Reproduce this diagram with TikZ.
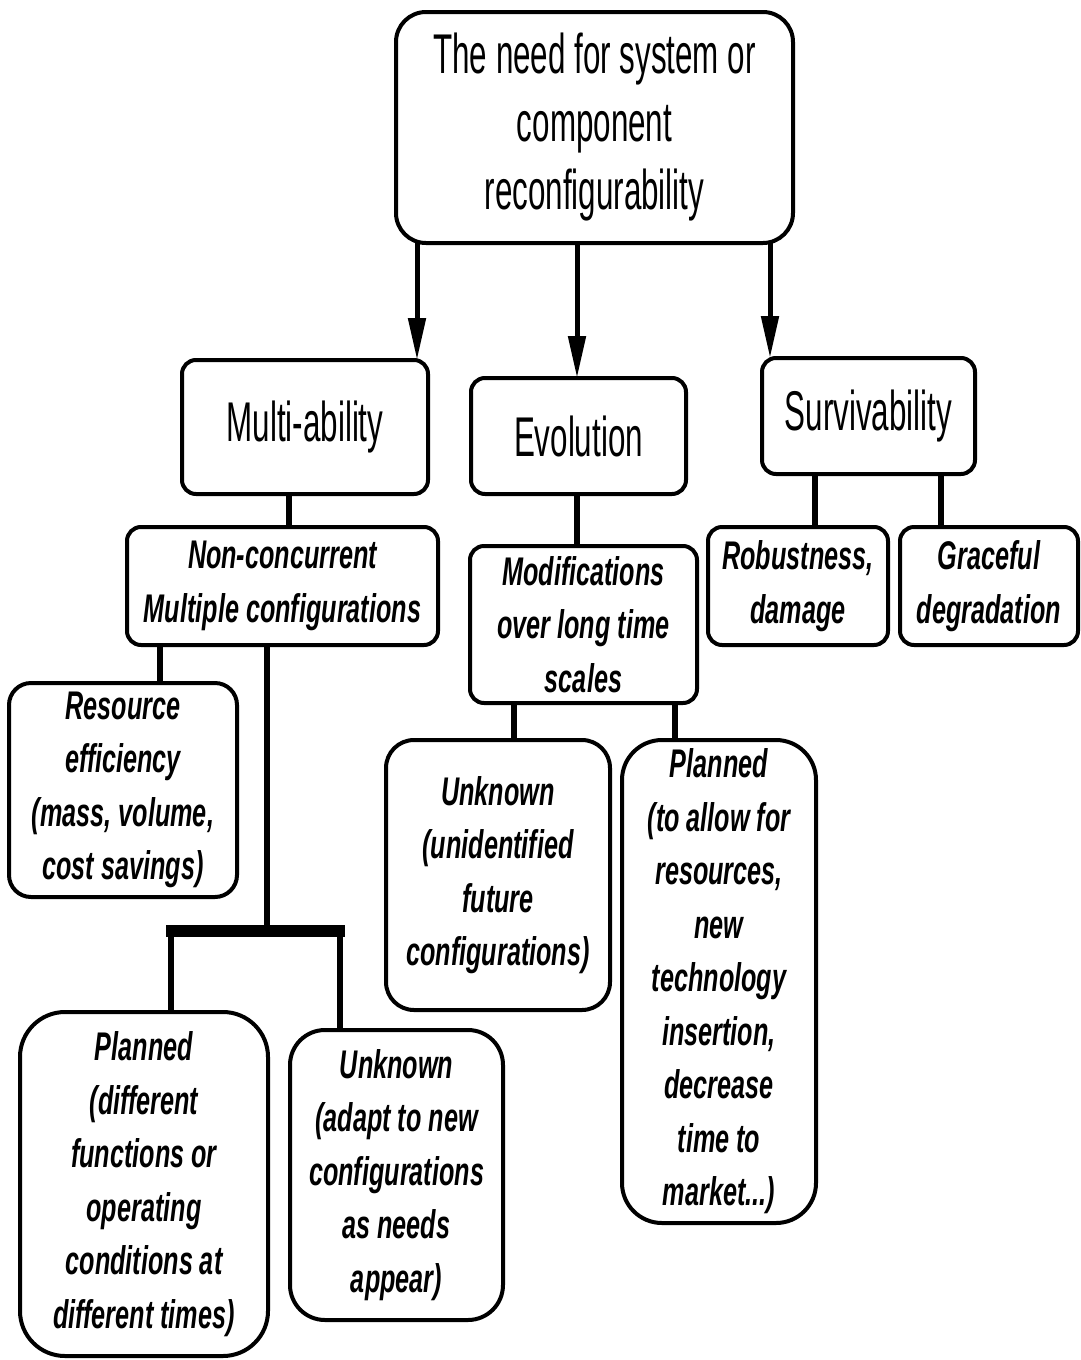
\documentclass[tikz,border=0pt]{standalone}
\usepackage{fontspec}
\setmainfont{Liberation Sans}
\newfontfamily\upfont[FakeStretch=0.56]{Liberation Sans}
\newfontfamily\lowfont[FakeStretch=0.63]{Liberation Sans}
\usetikzlibrary{arrows.meta}
\begin{document}
\begin{tikzpicture}[x=1pt,y=-1pt,
  box/.style={draw, line width=4pt, align=center, inner sep=0pt, outer sep=0pt},
  upbox/.style={box, rounded corners=#1, font=\upfont\fontsize{56}{68}\selectfont},
  upbox/.default=14pt,
  lowbox/.style={box, rounded corners=#1, font=\lowfont\bfseries\itshape\fontsize{40}{53.5}\selectfont},
  lowbox/.default=14pt,
  conn/.style={line width=6pt},
  arr/.style={line width=5pt, -{Triangle[length=42pt,width=17pt]}},
  barline/.style={line width=12pt}]
\useasboundingbox (0,0) rectangle (1080,1360);

% boxes
\node[upbox=30pt, minimum width=397pt, minimum height=231pt] (top) at (594.5,127.5)
  {The need for system or\\component\\reconfigurability};
\node[upbox, minimum width=246pt, minimum height=134pt] (multi) at (305,427) {Multi-ability};
\node[upbox, minimum width=215pt, minimum height=116pt] (evol) at (578.5,436) {Evolution};
\node[upbox, minimum width=213pt, minimum height=116pt] (surv) at (868.5,416) {Survivability};

\node[lowbox, minimum width=311pt, minimum height=118pt] (nonc) at (282.5,586)
  {Non-concurrent\\Multiple configurations};
\node[lowbox, minimum width=227pt, minimum height=157pt] (modif) at (583.5,624.5)
  {Modifications\\over long time\\scales};
\node[lowbox, minimum width=180pt, minimum height=118pt] (robust) at (798,586)
  {Robustness,\\damage};
\node[lowbox, minimum width=178pt, minimum height=118pt] (grace) at (989,586)
  {Graceful\\degradation};

\node[lowbox=22pt, minimum width=228pt, minimum height=214pt] (resource) at (123,790)
  {Resource\\efficiency\\(mass, volume,\\cost savings)};
\node[lowbox=28pt, minimum width=224pt, minimum height=270pt] (unkA) at (498,875)
  {Unknown\\(unidentified\\future\\configurations)};
\node[lowbox=40pt, minimum width=194pt, minimum height=483pt] (planA) at (719,981.5)
  {Planned\\(to allow for\\resources,\\new\\technology\\insertion,\\decrease\\time to\\market...)};
\node[lowbox=45pt, minimum width=248pt, minimum height=344pt] (planB) at (144,1184)
  {Planned\\(different\\functions or\\operating\\conditions at\\different times)};
\node[lowbox=35pt, minimum width=213pt, minimum height=290pt] (unkB) at (396.5,1175)
  {Unknown\\(adapt to new\\configurations\\as needs\\appear)};

% reference x positions
\coordinate (xa) at (417,0);
\coordinate (xb) at (577,0);
\coordinate (xc) at (770,0);
\coordinate (xm) at (289,0);
\coordinate (xs1) at (815,0);
\coordinate (xs2) at (941,0);
\coordinate (xn1) at (160,0);
\coordinate (xe1) at (514,0);
\coordinate (xe2) at (675,0);
\coordinate (barM) at (267,931);
\coordinate (barL) at (166,931);
\coordinate (barR) at (345,931);
\coordinate (dL) at (171,931);
\coordinate (dR) at (340,931);

% arrows
\draw[arr] (top.south -| xa) -- (multi.north -| xa);
\draw[arr] (top.south -| xb) -- (evol.north -| xb);
\draw[arr] (top.south -| xc) -- (surv.north -| xc);

% connectors
\draw[conn] (multi.south -| xm) -- (nonc.north -| xm);
\draw[conn] (evol.south -| xb) -- (modif.north -| xb);
\draw[conn] (surv.south -| xs1) -- (robust.north -| xs1);
\draw[conn] (surv.south -| xs2) -- (grace.north -| xs2);
\draw[conn] (nonc.south -| xn1) -- (resource.north -| xn1);
\draw[conn] (nonc.south -| barM) -- (barM);
\draw[barline] (barL) -- (barR);
\draw[conn] (dL) -- (planB.north -| dL);
\draw[conn] (dR) -- (unkB.north -| dR);
\draw[conn] (modif.south -| xe1) -- (unkA.north -| xe1);
\draw[conn] (modif.south -| xe2) -- (planA.north -| xe2);
\end{tikzpicture}
\end{document}
